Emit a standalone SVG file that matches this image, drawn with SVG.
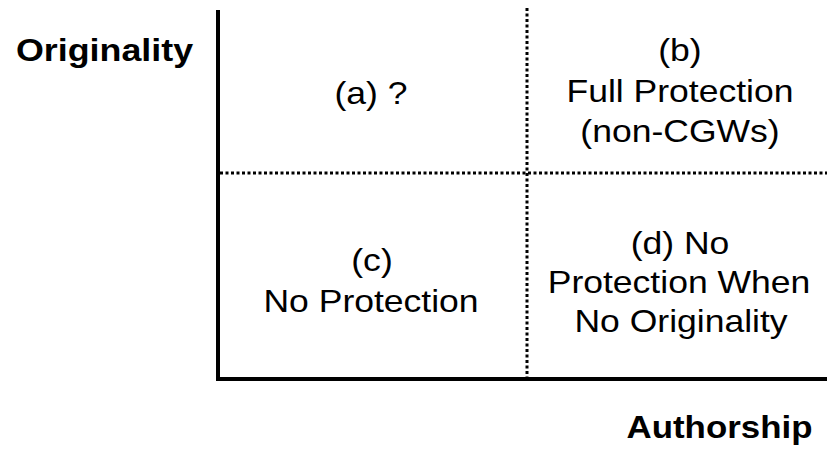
<svg xmlns="http://www.w3.org/2000/svg" width="827" height="449" viewBox="0 0 827 449">
<style>
.t{font-family:"Liberation Sans",Arial,sans-serif;font-size:32px;fill:#000;text-anchor:middle}
.b{font-weight:bold}
.axis{stroke:#000;stroke-width:4;fill:none}
.dot{stroke:#000;stroke-width:3;stroke-dasharray:3 2.5;fill:none}
</style>
<rect width="827" height="449" fill="#fff"/>
<g id="connectors">
<line class="dot" x1="527" y1="8" x2="527" y2="377"/>
<line class="dot" x1="220" y1="173" x2="827" y2="173"/>
<line class="axis" x1="218" y1="10" x2="218" y2="381"/>
<line class="axis" x1="216" y1="379" x2="827" y2="379"/>
</g>
<g id="label-originality"><text class="t b" transform="translate(104.5 61) scale(1.12 1)">Originality</text></g>
<g id="label-authorship"><text class="t b" transform="translate(719.5 438) scale(1.09 1)">Authorship</text></g>
<g id="cell-a"><text class="t" transform="translate(371 104) scale(1.11 1)">(a) ?</text></g>
<g id="cell-b">
<text class="t" transform="translate(680 61) scale(1.11 1)">(b)</text>
<text class="t" transform="translate(680 102) scale(1.11 1)">Full Protection</text>
<text class="t" transform="translate(680 142) scale(1.11 1)">(non-CGWs)</text>
</g>
<g id="cell-c">
<text class="t" transform="translate(372 271) scale(1.11 1)">(c)</text>
<text class="t" transform="translate(371 312) scale(1.11 1)">No Protection</text>
</g>
<g id="cell-d">
<text class="t" transform="translate(680 254) scale(1.11 1)">(d) No</text>
<text class="t" transform="translate(679 293) scale(1.11 1)">Protection When</text>
<text class="t" transform="translate(681 332) scale(1.11 1)">No Originality</text>
</g>
</svg>
